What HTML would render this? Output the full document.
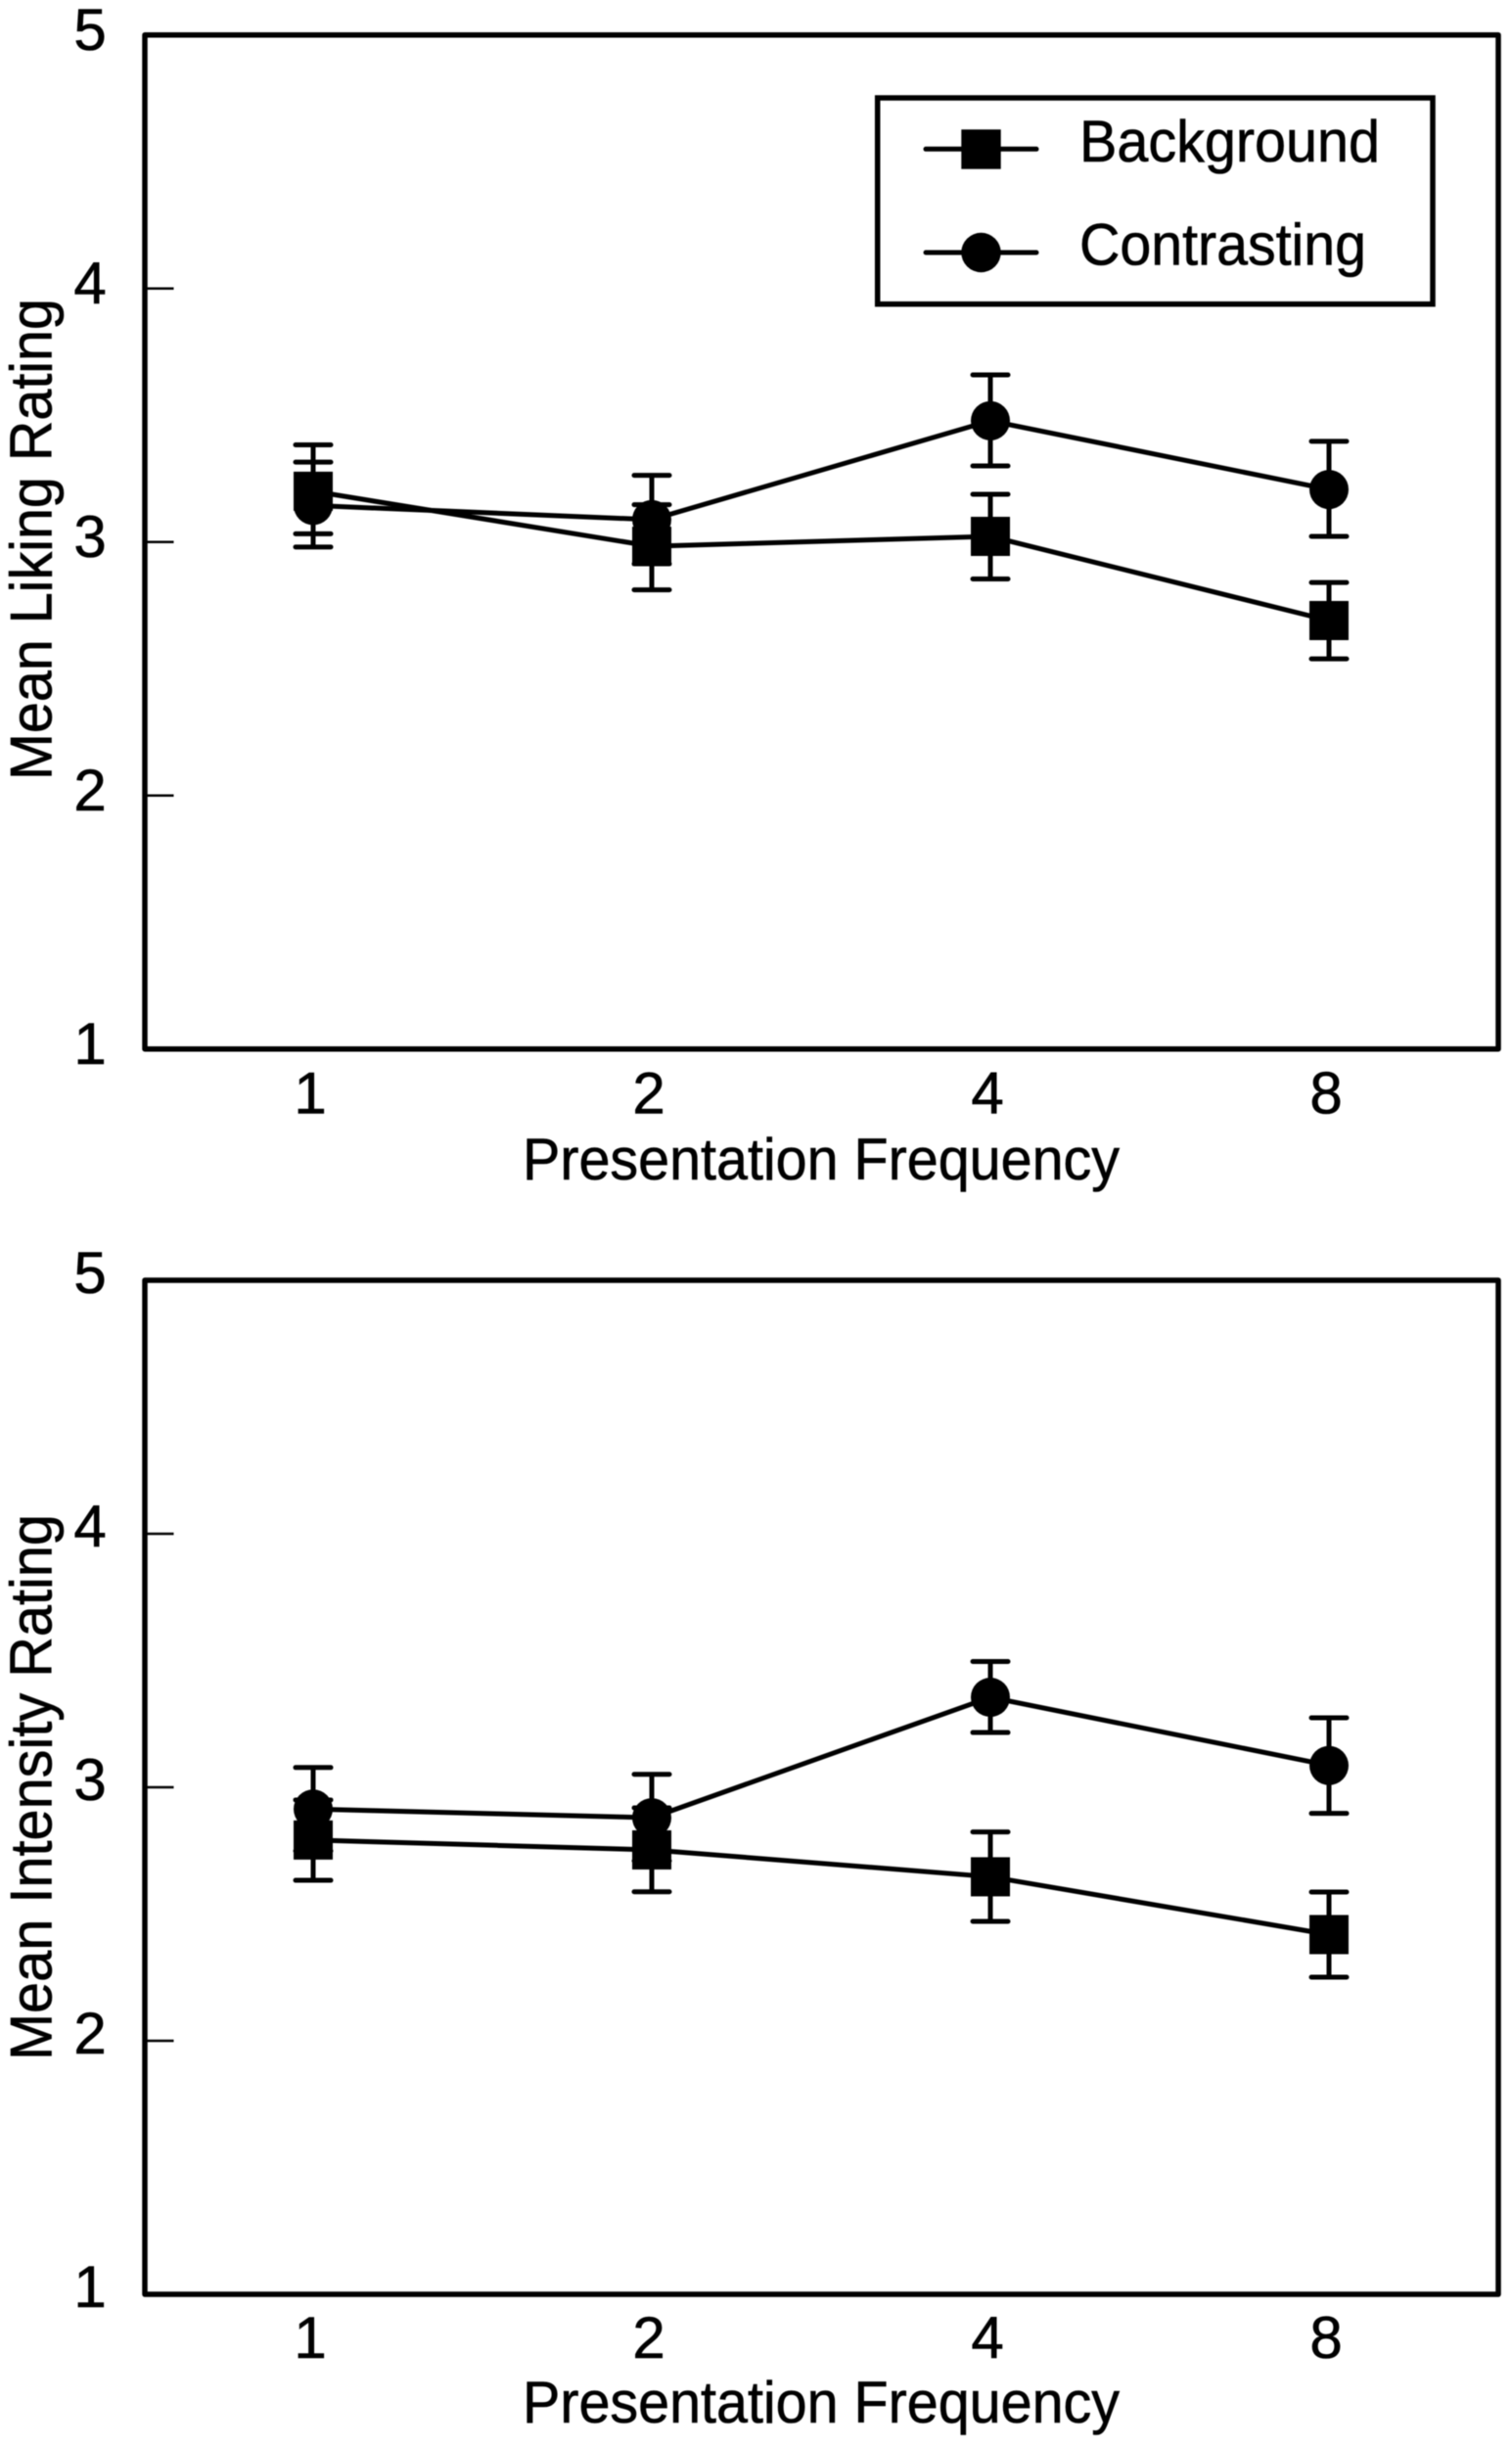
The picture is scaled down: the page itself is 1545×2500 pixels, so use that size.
<!DOCTYPE html>
<html lang="en">
<head>
<meta charset="utf-8">
<title>Mean Liking and Intensity Ratings by Presentation Frequency</title>
<style>
  html, body { margin: 0; padding: 0; background: #fff; }
  #figure { display: block; width: 1545px; height: 2500px; background: #fff; filter: blur(0.5px); }
  text { font-family: "Liberation Sans", Arial, sans-serif; fill: #000; stroke: #000; stroke-width: 0.6px; font-size: 60px; }
</style>
</head>
<body>
<svg id="figure" xmlns="http://www.w3.org/2000/svg" width="1545" height="2500" viewBox="0 0 1545 2500">
  <g id="panel-top">
    <text x="52.7" y="797" transform="rotate(-90 52.7 797)" textLength="492" lengthAdjust="spacingAndGlyphs">Mean Liking Rating</text>
    <text x="534" y="1205" textLength="610" lengthAdjust="spacingAndGlyphs">Presentation Frequency</text>
  </g>
  <g id="panel-bottom">
    <text x="52.7" y="2105" transform="rotate(-90 52.7 2105)" textLength="558" lengthAdjust="spacingAndGlyphs">Mean Intensity Rating</text>
    <text x="534" y="2475" textLength="610" lengthAdjust="spacingAndGlyphs">Presentation Frequency</text>
  </g>
  <g id="legend">
    <rect x="896.7" y="100" width="567.3" height="210.7" fill="#fff" stroke="#000" stroke-width="5.5"></rect>
    <g>
      <line x1="946" y1="152.3" x2="1059" y2="152.3" stroke="#000" stroke-width="5" stroke-linecap="round"></line>
      <rect x="982.3" y="132.3" width="40.4" height="40.4" fill="#000"></rect>
      <text x="1103" y="165" textLength="307" lengthAdjust="spacingAndGlyphs">Background</text>
    </g>
    <g>
      <line x1="946" y1="258" x2="1059" y2="258" stroke="#000" stroke-width="5" stroke-linecap="round"></line>
      <circle cx="1002.5" cy="258" r="20.2" fill="#000"></circle>
      <text x="1103" y="270.5" textLength="293" lengthAdjust="spacingAndGlyphs">Contrasting</text>
    </g>
  </g>
</svg>
<script>
const categories = ["1", "2", "4", "8"];
const yTickLabels = [5, 4, 3, 2, 1];

const likingBackground = [3.20, 2.983, 3.022, 2.690];
const likingBackgroundUpper = [3.383, 3.147, 3.188, 2.840];
const likingBackgroundLower = [3.032, 2.811, 2.854, 2.539];
const likingContrasting = [3.144, 3.088, 3.478, 3.207];
const likingContrastingUpper = [3.315, 3.263, 3.659, 3.397];
const likingContrastingLower = [2.980, 2.914, 3.300, 3.022];

const intensityBackground = [2.792, 2.753, 2.647, 2.419];
const intensityBackgroundUpper = [2.950, 2.919, 2.824, 2.587];
const intensityBackgroundLower = [2.633, 2.588, 2.471, 2.251];
const intensityContrasting = [2.914, 2.880, 3.355, 3.086];
const intensityContrastingUpper = [3.078, 3.051, 3.496, 3.274];
const intensityContrastingLower = [2.749, 2.710, 3.216, 2.897];

const NS = "http://www.w3.org/2000/svg";

function make(tag, attrs) {
  const el = document.createElementNS(NS, tag);
  for (const k in attrs) el.setAttribute(k, attrs[k]);
  return el;
}

function xScale(i) { return 320 + i * 346; }

function drawPanel(group, top, prefix, yLabelOffset, xTickBaseline, seriesList) {
  const yScale = function (v) { return top + (5 - v) * 259; };
  const bottom = yScale(1);

  const frame = make("rect", { x: 148, y: top, width: 1383, height: bottom - top, fill: "none", stroke: "#000", "stroke-width": 5.5, "stroke-linejoin": "round" });
  
  
  group.appendChild(frame);

  yTickLabels.forEach(function (t) {
    const y = yScale(t);
    if (t !== 5 && t !== 1) {
      const tick = make("line", { x1: 148, y1: y, x2: 177.5, y2: y, stroke: "#000", "stroke-width": 2.5 });
      
      
      group.appendChild(tick);
    }
    const label = make("text", { x: 92, y: y + yLabelOffset, "text-anchor": "middle" });
    
    
    label.textContent = t;
    group.appendChild(label);
  });

  categories.forEach(function (c, i) {
    const label = make("text", { x: xScale(i) - 3, y: xTickBaseline, "text-anchor": "middle" });
    
    
    label.textContent = c;
    group.appendChild(label);
  });

  seriesList.forEach(function (s) {
    const seriesGroup = make("g", {});
    
    
    group.appendChild(seriesGroup);

    const pts = s.values.map(function (v, i) { return xScale(i) + "," + yScale(v); }).join(" ");
    const line = make("polyline", { points: pts, fill: "none", stroke: "#000", "stroke-width": 5 });
    
    
    seriesGroup.appendChild(line);

    s.values.forEach(function (v, i) {
      const x = xScale(i);
      const yU = yScale(s.upper[i]);
      const yL = yScale(s.lower[i]);
      const stem = make("line", { x1: x, y1: yU, x2: x, y2: yL, stroke: "#000", "stroke-width": 5 });
      
      
      seriesGroup.appendChild(stem);

      const capTop = make("line", { x1: x - 18, y1: yU, x2: x + 18, y2: yU, stroke: "#000", "stroke-width": 5, "stroke-linecap": "round" });
      
      
      seriesGroup.appendChild(capTop);

      const capBottom = make("line", { x1: x - 18, y1: yL, x2: x + 18, y2: yL, stroke: "#000", "stroke-width": 5, "stroke-linecap": "round" });
      
      
      seriesGroup.appendChild(capBottom);

      let marker;
      if (s.shape === "square") {
        marker = make("rect", { x: x - 20, y: yScale(v) - 20, width: 40, height: 40, fill: "#000" });
      } else {
        marker = make("circle", { cx: x, cy: yScale(v), r: 20, fill: "#000" });
      }
      
      
      seriesGroup.appendChild(marker);
    });
  });
}

drawPanel(document.getElementById("panel-top"), 35.7, "liking", 15.5, 1137.5, [
  { name: "contrasting", shape: "circle", values: likingContrasting, upper: likingContrastingUpper, lower: likingContrastingLower },
  { name: "background", shape: "square", values: likingBackground, upper: likingBackgroundUpper, lower: likingBackgroundLower }
]);

drawPanel(document.getElementById("panel-bottom"), 1308, "intensity", 13, 2409, [
  { name: "contrasting", shape: "circle", values: intensityContrasting, upper: intensityContrastingUpper, lower: intensityContrastingLower },
  { name: "background", shape: "square", values: intensityBackground, upper: intensityBackgroundUpper, lower: intensityBackgroundLower }
]);
</script>
</body>
</html>
